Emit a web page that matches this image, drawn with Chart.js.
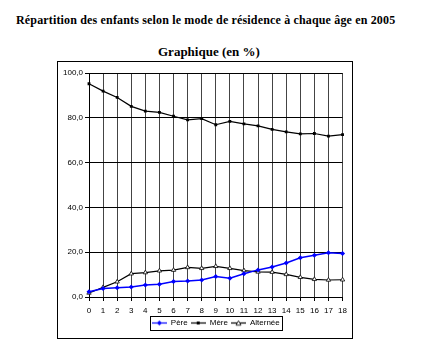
<!DOCTYPE html>
<html>
<head>
<meta charset="utf-8">
<script src="https://cdn.jsdelivr.net/npm/chart.js@4/dist/chart.umd.min.js"></script>
<style>
  html, body { margin: 0; padding: 0; background: #fff; }
  body { width: 433px; height: 357px; position: relative; overflow: hidden; }
  #title { position: absolute; left: 16px; top: 13px; font: bold 12px "Liberation Serif", serif; letter-spacing: 0.16px; color: #000; white-space: nowrap; }
  #subtitle { position: absolute; left: 158px; top: 44px; font: bold 13px "Liberation Serif", serif; letter-spacing: 0px; color: #000; white-space: nowrap; }
  #box { position: absolute; left: 57px; top: 61px; width: 294px; height: 276px; border: 1px solid #000; }
  canvas { display: block; }
</style>
</head>
<body>
<div id="title">Répartition des enfants selon le mode de résidence à chaque âge en 2005</div>
<div id="subtitle">Graphique (en %)</div>
<div id="box"><canvas id="c" width="294" height="276"></canvas></div>
<script>
const ages = ['0','1','2','3','4','5','6','7','8','9','10','11','12','13','14','15','16','17','18'];
const pere = [2.3, 3.8, 4.1, 4.5, 5.4, 5.7, 6.9, 7.1, 7.6, 9.1, 8.4, 10.4, 12.1, 13.4, 15.2, 17.5, 18.6, 19.8, 19.4];
const mere = [95.2, 91.9, 89.1, 85.1, 83.0, 82.4, 80.7, 79.1, 79.6, 76.9, 78.4, 77.3, 76.4, 74.8, 73.7, 72.8, 73.0, 71.8, 72.5];
const alternee = [1.8, 4.3, 6.8, 10.4, 10.9, 11.7, 12.0, 13.2, 12.8, 13.7, 12.8, 11.8, 11.2, 11.1, 10.1, 8.8, 7.9, 7.6, 7.7];
const yTicks = [0, 20, 40, 60, 80, 100];
const seriesNames = ['Père', 'Mère', 'Alternée'];

function icon(color, style) {
  const c = document.createElement('canvas');
  c.width = 15; c.height = 7;
  const g = c.getContext('2d');
  g.strokeStyle = color; g.lineWidth = 1.2;
  g.beginPath(); g.moveTo(0, 3.5); g.lineTo(15, 3.5); g.stroke();
  g.fillStyle = color;
  if (style === 'rectRot') {
    g.beginPath(); g.moveTo(7.5, 1); g.lineTo(10, 3.5); g.lineTo(7.5, 6); g.lineTo(5, 3.5); g.closePath(); g.fill();
  } else if (style === 'rect') {
    g.fillRect(6, 2, 3, 3);
  } else {
    g.fillStyle = '#fff'; g.lineWidth = 0.8;
    g.beginPath(); g.moveTo(7.5, 1.2); g.lineTo(10, 5.6); g.lineTo(5, 5.6); g.closePath(); g.fill(); g.stroke();
  }
  return c;
}
const icons = [icon('#0000ff', 'rectRot'), icon('#000', 'rect'), icon('#000', 'triangle')];

const legendBorder = {
  id: 'legendBorder',
  afterDraw(chart) {
    const l = chart.legend;
    if (!l || !l.legendHitBoxes || !l.legendHitBoxes.length) return;
    const hb = l.legendHitBoxes;
    const left = Math.min(...hb.map(h => h.left)) - 2;
    const right = Math.max(...hb.map(h => h.left + h.width)) + 2;
    const top = hb[0].top - 3;
    const bottom = hb[0].top + hb[0].height + 3;
    const ctx = chart.ctx;
    ctx.save();
    ctx.strokeStyle = '#000'; ctx.lineWidth = 1;
    ctx.strokeRect(Math.round(left) + 0.5, Math.round(top) + 0.5, Math.round(right - left), Math.round(bottom - top));
    ctx.restore();
  }
};

new Chart(document.getElementById('c'), {
  type: 'line',
  data: {
    labels: ages,
    datasets: [
      { label: seriesNames[0], data: pere, borderColor: '#0000ff', backgroundColor: '#0000ff', borderWidth: 1.5,
        pointStyle: 'rectRot', pointRadius: 2.5, pointBorderWidth: 0, tension: 0 },
      { label: seriesNames[1], data: mere, borderColor: '#000', backgroundColor: '#000', borderWidth: 1.2,
        pointStyle: 'rect', pointRadius: 2, pointBorderWidth: 0, tension: 0 },
      { label: seriesNames[2], data: alternee, borderColor: '#000', backgroundColor: '#fff', borderWidth: 1.2,
        pointStyle: 'triangle', pointRadius: 2.5, pointBorderWidth: 0.8, tension: 0 }
    ]
  },
  options: {
    responsive: false,
    animation: false,
    layout: { padding: { top: 11, right: 9, left: 0, bottom: 1 } },
    plugins: {
      title: { display: false },
      tooltip: { enabled: false },
      legend: {
        position: 'bottom',
        fullSize: false,
        labels: {
          usePointStyle: true,
          pointStyleWidth: 15,
          padding: 3,
          color: '#000',
          font: { family: '"Liberation Sans", Arial, sans-serif', size: 8 },
          generateLabels(chart) {
            return chart.data.datasets.map((ds, i) => ({
              text: ds.label, pointStyle: icons[i], fillStyle: ds.borderColor,
              strokeStyle: ds.borderColor, lineWidth: 0, hidden: false, datasetIndex: i, fontColor: '#000'
            }));
          }
        }
      }
    },
    scales: {
      x: {
        type: 'category',
        offset: false,
        afterFit(axis) { axis.height = 19; },
        grid: { color: '#444', lineWidth: 1, tickLength: 4, drawTicks: true, tickColor: '#000' },
        border: { color: '#000', width: 1 },
        ticks: { color: '#000', padding: 5, maxRotation: 0, autoSkip: false,
                 font: { family: '"Liberation Sans", Arial, sans-serif', size: 8 } }
      },
      y: {
        min: 0, max: 100,
        afterBuildTicks(axis) { axis.ticks = yTicks.map(v => ({ value: v })); },
        afterFit(axis) { axis.width = 31; },
        grid: { color: '#000', lineWidth: 1, tickLength: 4, tickColor: '#000' },
        border: { color: '#000', width: 1 },
        ticks: { color: '#000', padding: 2,
                 font: { family: '"Liberation Sans", Arial, sans-serif', size: 8 },
                 callback: v => v.toFixed(1).replace('.', ',') }
      }
    }
  },
  plugins: [legendBorder]
});
</script>
</body>
</html>
